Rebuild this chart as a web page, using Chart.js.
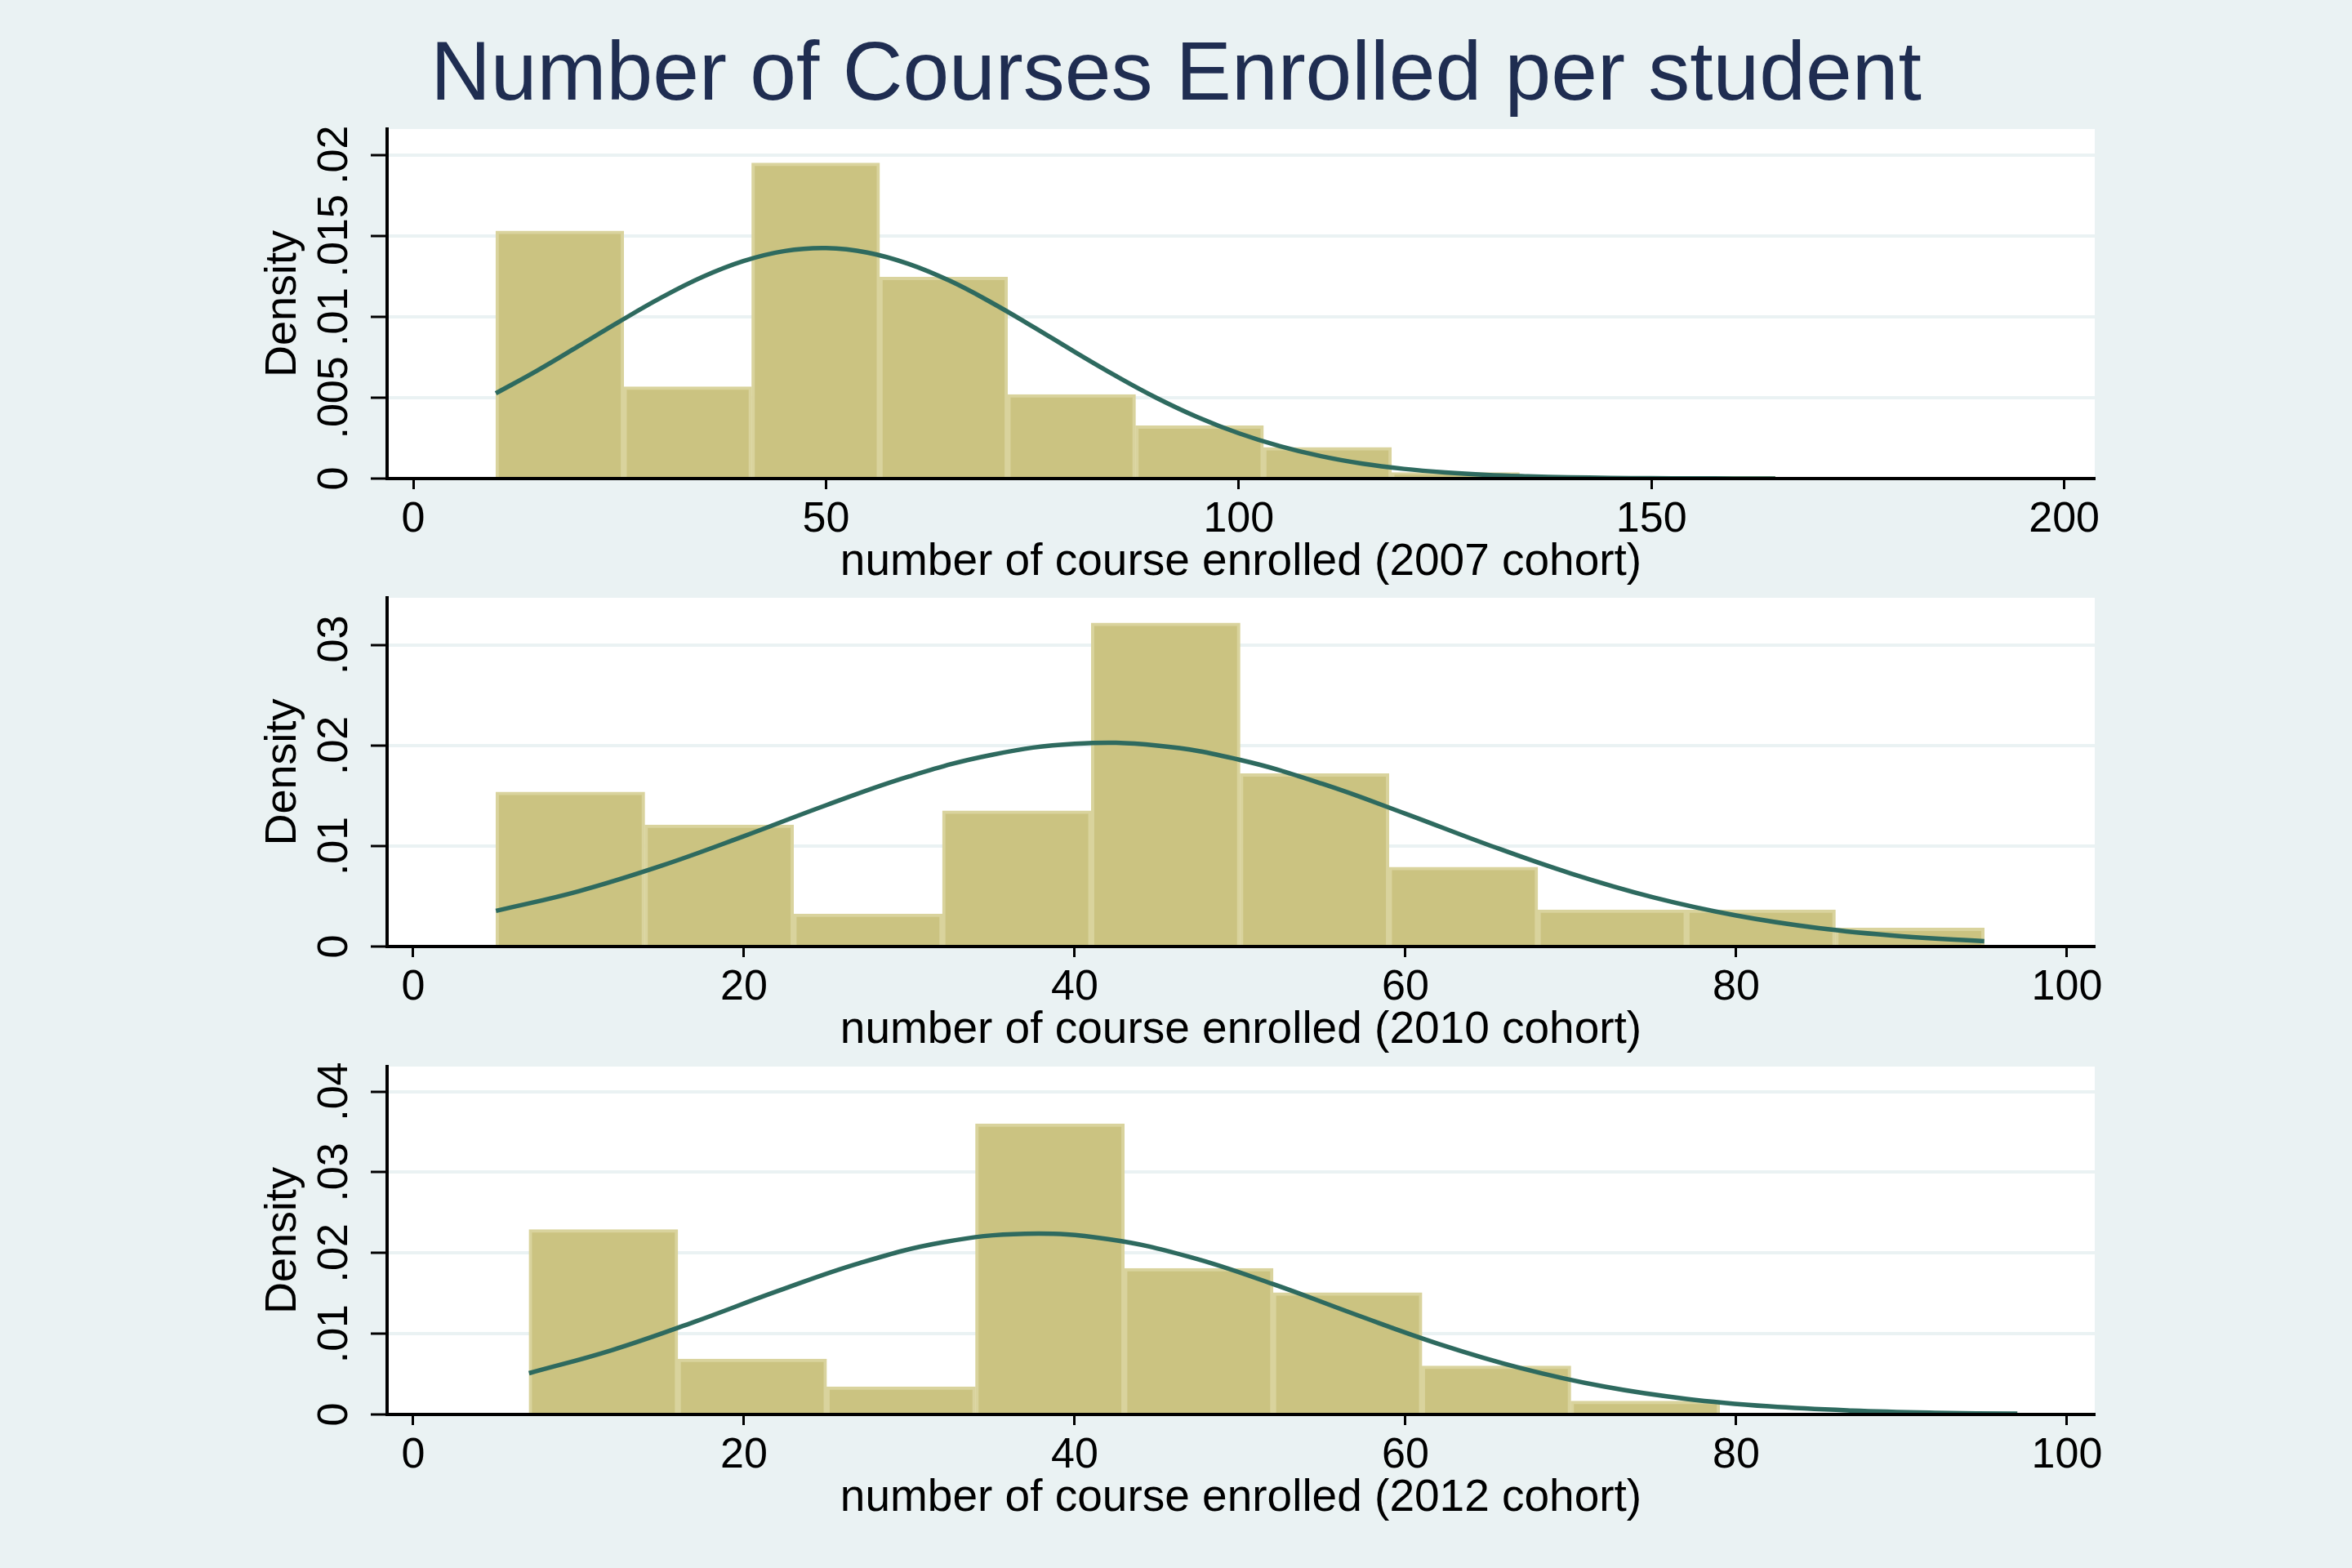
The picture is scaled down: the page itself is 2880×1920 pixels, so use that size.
<!DOCTYPE html>
<html>
<head>
<meta charset="utf-8">
<script src="https://cdn.jsdelivr.net/npm/chart.js@4.4.1/dist/chart.umd.min.js"></script>
<style>
html, body { margin: 0; padding: 0; background: #EAF2F3; }
#page { position: relative; width: 2880px; height: 1920px; overflow: hidden; }
.panel { position: absolute; left: 0; width: 2880px; }
#title {
    position: absolute; left: 0; top: 27px; width: 2880px;
    text-align: center; color: #1F2D51;
    font: 102px/120px "Liberation Sans", Arial, Helvetica, sans-serif;
    white-space: nowrap;
}
</style>
</head>
<body>
<div id="page">
  <div id="title"></div>
  <div class="panel" style="top:0px;height:726px"><canvas id="c2007"></canvas></div>
  <div class="panel" style="top:726px;height:573px"><canvas id="c2010"></canvas></div>
  <div class="panel" style="top:1299px;height:573px"><canvas id="c2012"></canvas></div>
</div>
<script>
const titleText = 'Number of Courses Enrolled per student';
const yTitle = 'Density';

// 2007 cohort: bin centres (width 15.5 from 10) and densities
const bins2007 = [17.75, 33.25, 48.75, 64.25, 79.75, 95.25, 110.75, 126.25, 141.75, 157.25];
const dens2007 = [0.0153, 0.00567, 0.0195, 0.01245, 0.0052, 0.00326, 0.00193, 0.00037, 0.00013, 0.00013];
const curveX2007 = [10, 15, 20, 25, 30, 35, 40, 45, 50, 55, 60, 65, 70, 75, 80, 85, 90, 95, 100, 105, 110, 115, 120, 125, 130, 135, 140, 145, 150, 155, 160, 165];
const curveY2007 = [0.00527, 0.00667, 0.00818, 0.00971, 0.01117, 0.01245, 0.01344, 0.01406, 0.01424, 0.01397, 0.01327, 0.01222, 0.01089, 0.00941, 0.00787, 0.00638, 0.00500, 0.00380, 0.00280, 0.00200, 0.00138, 0.00092, 0.00060, 0.00038, 0.00023, 0.00014, 0.00008, 0.00004, 0.00002, 0.00001, 0.000006, 0.000003];
const xTicks2007 = [0, 50, 100, 150, 200];
const xLabels2007 = ['0', '50', '100', '150', '200'];
const yTicks2007 = [0, 0.005, 0.01, 0.015, 0.02];
const yLabels2007 = ['0', '.005', '.01', '.015', '.02'];

// 2010 cohort: bin centres (width 9 from 5)
const bins2010 = [9.5, 18.5, 27.5, 36.5, 45.5, 54.5, 63.5, 72.5, 81.5, 90.5];
const dens2010 = [0.01538, 0.0121, 0.00325, 0.0135, 0.0322, 0.0172, 0.0079, 0.00366, 0.00366, 0.00184];
const curveX2010 = [5, 10, 15, 20, 25, 30, 35, 40, 45, 50, 55, 60, 65, 70, 75, 80, 85, 90, 95];
const curveY2010 = [0.00354, 0.00550, 0.00803, 0.01098, 0.01408, 0.01693, 0.01908, 0.02017, 0.01999, 0.01857, 0.01618, 0.01322, 0.01012, 0.00727, 0.00489, 0.00309, 0.00183, 0.00102, 0.00053];

// 2012 cohort: bin centres (width 9 from 7)
const bins2012 = [11.5, 20.5, 29.5, 38.5, 47.5, 56.5, 65.5, 74.5, 83.5, 92.5];
const dens2012 = [0.0229, 0.00687, 0.00343, 0.0360, 0.0181, 0.0151, 0.0060, 0.00166, 0, 0.00018];
const curveX2012 = [7, 12, 17, 22, 27, 32, 37, 42, 47, 52, 57, 62, 67, 72, 77, 82, 87, 92, 97];
const curveY2012 = [0.00511, 0.00796, 0.01147, 0.01526, 0.01876, 0.02132, 0.02239, 0.02173, 0.01949, 0.01615, 0.01237, 0.00875, 0.00573, 0.00346, 0.00193, 0.00100, 0.00048, 0.00021, 0.00009];

const xTicks100 = [0, 20, 40, 60, 80, 100];
const xLabels100 = ['0', '20', '40', '60', '80', '100'];
const yTicks2010 = [0, 0.01, 0.02, 0.03];
const yLabels2010 = ['0', '.01', '.02', '.03'];
const yTicks2012 = [0, 0.01, 0.02, 0.03, 0.04];
const yLabels2012 = ['0', '.01', '.02', '.03', '.04'];

const FONT = '"Liberation Sans", Arial, Helvetica, sans-serif';
Chart.defaults.font.family = FONT;
Chart.defaults.color = '#000';

document.getElementById('title').textContent = titleText;

// white plot region and Stata-style vertical y tick labels
const stataPlugin = {
    id: 'stata',
    beforeDraw(chart) {
        const { ctx, chartArea: a } = chart;
        ctx.save();
        ctx.fillStyle = '#FFFFFF';
        ctx.fillRect(a.left, a.top, a.right - a.left, a.bottom - a.top);
        ctx.restore();
    },
    afterDraw(chart, args, opts) {
        const { ctx } = chart;
        const ys = chart.scales.y;
        ctx.save();
        ctx.font = '52px ' + FONT;
        ctx.fillStyle = '#000';
        ctx.textAlign = 'center';
        ctx.textBaseline = 'alphabetic';
        ys.ticks.forEach((t, i) => {
            const py = ys.getPixelForValue(t.value);
            ctx.save();
            ctx.translate(opts.labelX, py);
            ctx.rotate(-Math.PI / 2);
            ctx.fillText(opts.labels[i], 0, 0);
            ctx.restore();
        });
        ctx.restore();
    }
};

function makePanel(id, cfg) {
    const ctx = document.getElementById(id).getContext('2d');
    return new Chart(ctx, {
        type: 'bar',
        data: {
            datasets: [{
                type: 'line',
                data: cfg.curveX.map((x, i) => ({ x: x, y: cfg.curveY[i] })),
                borderColor: '#2E6A5F',
                borderWidth: 5.5,
                pointRadius: 0,
                fill: false,
                tension: 0.4,
                order: 0
            }, {
                type: 'bar',
                data: cfg.bins.map((x, i) => ({ x: x, y: cfg.dens[i] })),
                backgroundColor: '#CBC381',
                borderColor: '#D9D39D',
                borderWidth: 4,
                barPercentage: 1,
                categoryPercentage: 1,
                order: 1
            }]
        },
        options: {
            responsive: true,
            maintainAspectRatio: false,
            animation: false,
            events: [],
            layout: { padding: { left: 0, right: 315, top: cfg.padTop, bottom: 0 } },
            plugins: {
                legend: { display: false },
                tooltip: { enabled: false },
                title: { display: false },
                stata: { labels: cfg.yLabels, labelX: 425 }
            },
            scales: {
                x: {
                    type: 'linear',
                    offset: false,
                    min: cfg.xMin,
                    max: cfg.xMax,
                    afterBuildTicks: s => { s.ticks = cfg.xTicks.map(v => ({ value: v })); },
                    afterFit: s => { s.height = 140; },
                    grid: { offset: false, drawOnChartArea: false, color: '#000', tickColor: '#000', tickLength: 13, tickWidth: 3 },
                    border: { display: true, color: '#000', width: 4, z: 1 },
                    ticks: {
                        autoSkip: false,
                        maxRotation: 0,
                        padding: 6,
                        font: { size: 52 },
                        color: '#000',
                        callback: (v, i) => cfg.xLabels[i]
                    },
                    title: {
                        display: true,
                        text: cfg.xTitle,
                        color: '#000',
                        font: { size: 55 },
                        padding: { top: 0, bottom: 4 }
                    }
                },
                y: {
                    min: 0,
                    max: cfg.yMax,
                    afterBuildTicks: s => { s.ticks = cfg.yTicks.map(v => ({ value: v })); },
                    afterFit: s => { s.width = 474; },
                    grid: { color: '#EAF2F3', lineWidth: 4, tickColor: '#000', tickLength: 20, tickWidth: 3 },
                    border: { display: true, color: '#000', width: 4, z: 1 },
                    ticks: { display: false },
                    title: {
                        display: true,
                        text: yTitle,
                        color: '#000',
                        font: { size: 54 },
                        padding: { top: 315, bottom: 0 }
                    }
                }
            }
        },
        plugins: [stataPlugin]
    });
}

makePanel('c2007', {
    bins: bins2007, dens: dens2007, curveX: curveX2007, curveY: curveY2007,
    xTicks: xTicks2007, xLabels: xLabels2007, yTicks: yTicks2007, yLabels: yLabels2007,
    xMin: -3.17, xMax: 203.7, yMax: 0.0216, padTop: 158,
    xTitle: 'number of course enrolled (2007 cohort)'
});
makePanel('c2010', {
    bins: bins2010, dens: dens2010, curveX: curveX2010, curveY: curveY2010,
    xTicks: xTicks100, xLabels: xLabels100, yTicks: yTicks2010, yLabels: yLabels2010,
    xMin: -1.58, xMax: 101.68, yMax: 0.0347, padTop: 6,
    xTitle: 'number of course enrolled (2010 cohort)'
});
makePanel('c2012', {
    bins: bins2012, dens: dens2012, curveX: curveX2012, curveY: curveY2012,
    xTicks: xTicks100, xLabels: xLabels100, yTicks: yTicks2012, yLabels: yLabels2012,
    xMin: -1.58, xMax: 101.68, yMax: 0.0431, padTop: 7,
    xTitle: 'number of course enrolled (2012 cohort)'
});
</script>
</body>
</html>
